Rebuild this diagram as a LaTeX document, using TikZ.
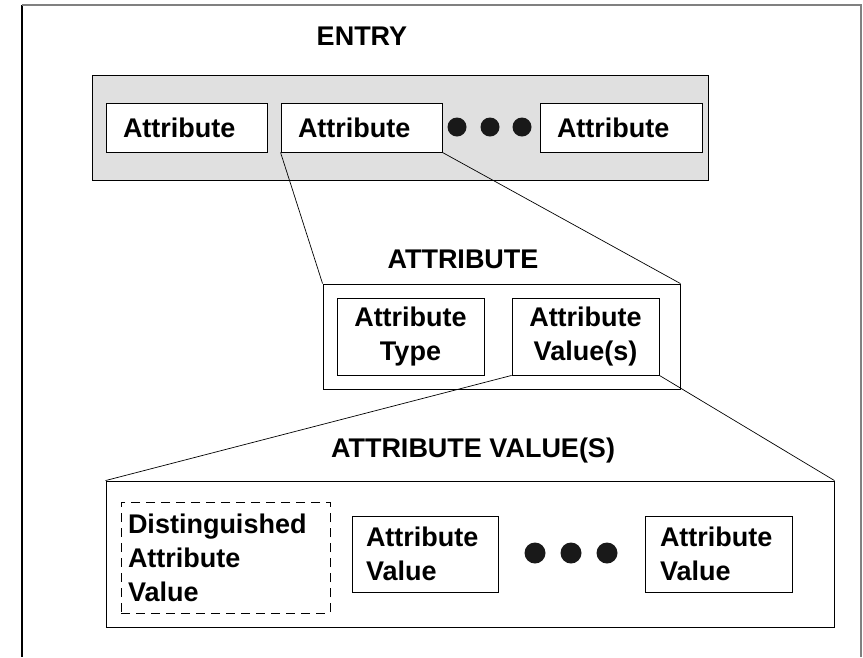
\documentclass[tikz,border=0pt]{standalone}
\usepackage{fontspec}
\setmainfont{Liberation Sans}
\usetikzlibrary{arrows}

\begin{document}
\begin{tikzpicture}[x=1pt,y=-1pt]
\tikzstyle{title}=[font=\fontsize{27}{34}\selectfont\bfseries,anchor=base,inner sep=0pt]
\tikzstyle{group}=[draw=black,line width=0.9pt,inner sep=0pt]
\tikzstyle{item}=[draw=black,line width=0.9pt,fill=white,font=\fontsize{27}{34}\selectfont\bfseries,inner ysep=0pt]
\tikzstyle{dot}=[circle,fill=black!90,inner sep=0pt]
\useasboundingbox (0,0) rectangle (863,657);
% frame
\draw[black,line width=1.2pt] (22,5) -- (22,657);
\draw[gray,line width=1.5pt] (22,5) -- (861,5) -- (861,657);
% entry
\node[title] (entrytitle) at (362,45) {ENTRY};
\node[group,fill=black!12,minimum width=616,minimum height=105] (entry) at (400,127.5) {};
\node[item,text width=127,inner xsep=17,minimum height=49,align=left] (a1) at (186.5,127.5) {Attribute};
\node[item,text width=127,inner xsep=17,minimum height=49,align=left] (a2) at (361.5,127.5) {Attribute};
\node[dot,minimum size=19] (d1) at (457,127) {};
\node[dot,minimum size=19] (d2) at (490,127) {};
\node[dot,minimum size=19] (d3) at (522,127) {};
\node[item,text width=128,inner xsep=17,minimum height=49,align=left] (a3) at (621,127.5) {Attribute};
% attribute
\node[title] (attrtitle) at (463,268) {ATTRIBUTE};
\node[group,minimum width=357,minimum height=105] (attr) at (501.5,336.5) {};
\node[item,text width=147,inner xsep=0,minimum height=77,align=center] (type) at (410.5,336.5) {Attribute\\Type};
\node[item,text width=147,inner xsep=0,minimum height=77,align=center] (vals) at (585.5,336.5) {Attribute\\Value(s)};
% attribute values
\node[title] (valtitle) at (473,457) {ATTRIBUTE VALUE(S)};
\node[group,minimum width=728,minimum height=146] (avs) at (470,554) {};
\node[item,dash pattern=on 9pt off 6pt,text width=195,inner xsep=7,minimum height=111,align=left] (dav) at (225.5,557.5) {Distinguished\\Attribute\\Value};
\node[item,text width=118,inner xsep=14,minimum height=76,align=left] (av1) at (425,554) {Attribute\\Value};
\node[dot,minimum size=21] (e1) at (535,553) {};
\node[dot,minimum size=21] (e2) at (571,553) {};
\node[dot,minimum size=21] (e3) at (607,553) {};
\node[item,text width=117,inner xsep=15,minimum height=76,align=left] (av2) at (718.5,554) {Attribute\\Value};
% zoom lines
\draw[line width=0.7pt] (a2.south west) -- (attr.north west);
\draw[line width=0.7pt] (a2.south east) -- (attr.north east);
\draw[line width=0.7pt] (vals.south west) -- (avs.north west);
\draw[line width=0.7pt] (vals.south east) -- (avs.north east);
\end{tikzpicture}
\end{document}
